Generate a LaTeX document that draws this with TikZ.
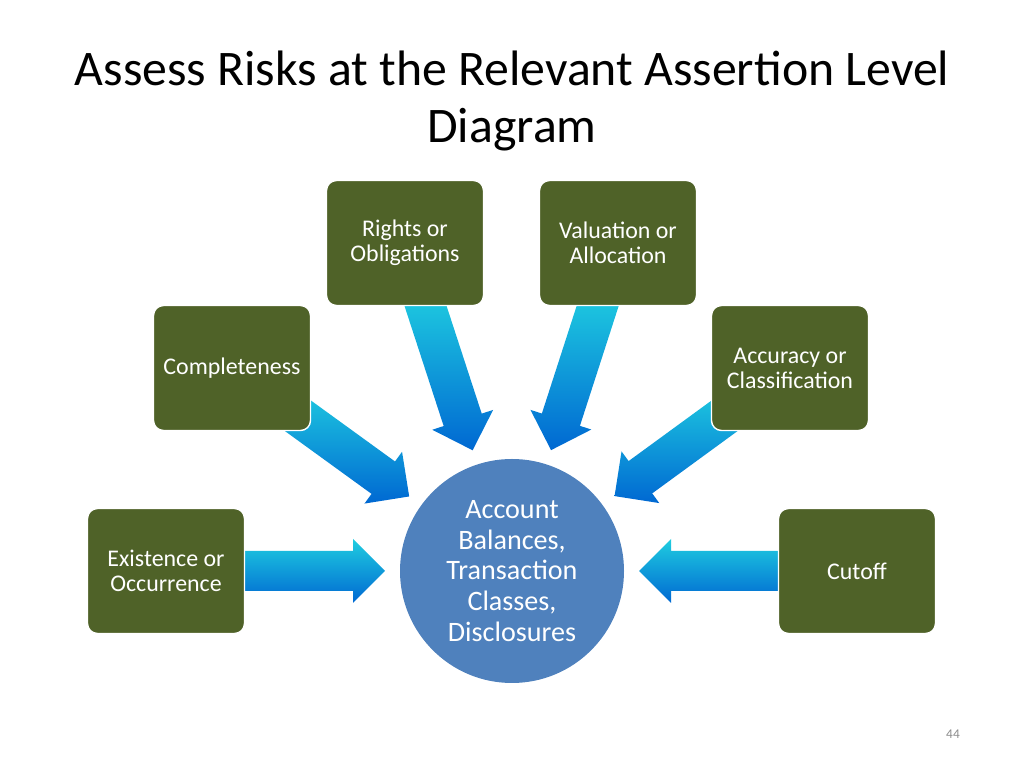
\documentclass[tikz,border=0pt]{standalone}
\usepackage{fontspec}
\setmainfont{Carlito}
\usetikzlibrary{calc, positioning, backgrounds}
\definecolor{boxgreen}{HTML}{4F6228}
\definecolor{hubblue}{HTML}{4F81BD}
\definecolor{arrowcyan}{HTML}{1FCDE0}
\definecolor{arrowblue}{HTML}{0068D2}

% block arrow from an assertion box towards the hub
\newcommand{\feedarrow}[2]{%
  \coordinate (t) at ($(#1.center)!1.4cm!(#2.center)$);
  \coordinate (p) at ($(#2.center)!3.175cm!(#1.center)$);
  \coordinate (n) at ($(p)!0.8cm!(t)$);
  \shade[top color=arrowcyan, bottom color=arrowblue]
    ($(t)!0.5cm!90:(p)$) -- ($(n)!0.5cm!90:(p)$) -- ($(n)!0.8cm!90:(p)$) -- (p)
    -- ($(n)!0.8cm!-90:(p)$) -- ($(n)!0.5cm!-90:(p)$) -- ($(t)!0.5cm!-90:(p)$) -- cycle;}

\tikzset{
  assertbox/.style={draw=white, line width=1pt, fill=boxgreen, rounded corners=0.25cm,
    minimum width=3.925cm, minimum height=3.125cm, align=center, text=white,
    font=\fontsize{17}{17.8}\selectfont},
  hub/.style={circle, fill=hubblue, minimum size=5.6cm, align=center, text=white,
    font=\fontsize{20}{21.9}\selectfont},
  title/.style={align=center, font=\fontsize{35.4}{41.2}\selectfont},
  pagenum/.style={text=black!45, font=\fontsize{9.5}{11}\selectfont}
}

\begin{document}
\begin{tikzpicture}
  \useasboundingbox (0,0) rectangle (25.6,19.2);

  % Title
  \node[title, anchor=base] (title) at (12.8,15.625)
    {Assess Risks at the Relevant Assertion Level\\Diagram};

  % Hub and assertions
  \node[hub] (hub) at (12.8,4.925)
    {Account\\Balances,\\Transaction\\Classes,\\Disclosures};

  \node[assertbox] (rights) at (10.125,13.125) {Rights or\\Obligations};
  \node[assertbox] (valuation) at (15.45,13.125) {Valuation or\\Allocation};
  \node[assertbox] (complete) at (5.8,10.0) {Completeness};
  \node[assertbox] (accuracy) at (19.75,10.0) {Accuracy or\\Classification};
  \node[assertbox] (existence) at (4.15,4.925) {Existence or\\Occurrence};
  \node[assertbox] (cutoff) at (21.425,4.925) {Cutoff};

  % Arrows into the hub
  \begin{scope}[on background layer]
    \foreach \src in {rights, valuation, complete, accuracy, existence, cutoff}
      {\feedarrow{\src}{hub}}
  \end{scope}

  \node[pagenum] (page) at (23.825,0.85) {44};
\end{tikzpicture}
\end{document}
